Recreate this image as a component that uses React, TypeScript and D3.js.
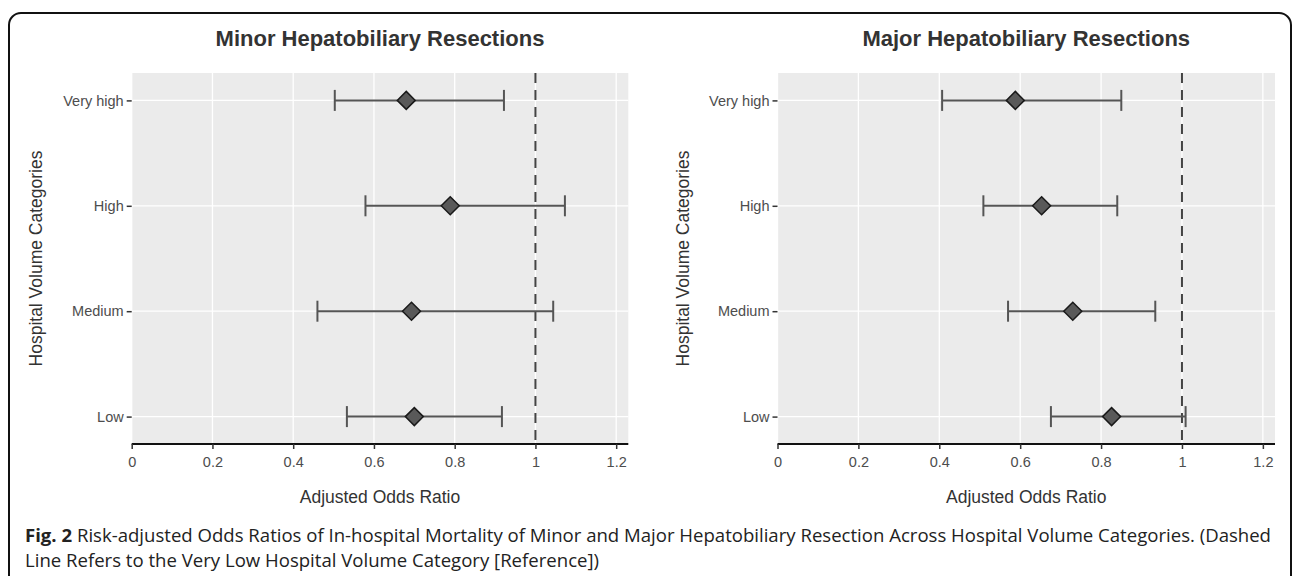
import * as d3 from "d3";
import { useEffect, useRef } from "react";

// categories, bottom to top
const categories = ["Low", "Medium", "High", "Very high"];
const xTicks = [0, 0.2, 0.4, 0.6, 0.8, 1, 1.2];

// Minor resections: odds ratio and 95% CI
const minorOR = [0.7, 0.693, 0.789, 0.68];
const minorLow = [0.533, 0.46, 0.579, 0.503];
const minorHigh = [0.917, 1.044, 1.073, 0.922];

// Major resections
const majorOR = [0.826, 0.73, 0.653, 0.588];
const majorLow = [0.676, 0.57, 0.509, 0.407];
const majorHigh = [1.009, 0.934, 0.84, 0.85];

const panelTitles = ["Minor Hepatobiliary Resections", "Major Hepatobiliary Resections"];
const xTitle = "Adjusted Odds Ratio";
const yTitle = "Hospital Volume Categories";
const captionBold = "Fig. 2";
const captionLine1 =
  " Risk-adjusted Odds Ratios of In-hospital Mortality of Minor and Major Hepatobiliary Resection Across Hospital Volume Categories. (Dashed";
const captionLine2 = "Line Refers to the Very Low Hospital Volume Category [Reference])";

const W = 1292,
  H = 576;

const App = () => {
  const ref = useRef(null);

  useEffect(() => {
    const svg = d3.select(ref.current);
    svg.selectAll("*").remove();

    // outer frame
    svg
      .append("rect")
      .attr("x", 9)
      .attr("y", 13)
      .attr("width", 1282)
      .attr("height", 620)
      .attr("rx", 12)
      .attr("fill", "none")
      .attr("stroke", "#111")
      .attr("stroke-width", 2);

    const panels = [
      { x0: 131.7, x1: 628.3, yTitleX: 36, or: minorOR, lo: minorLow, hi: minorHigh },
      { x0: 777.5, x1: 1275, yTitleX: 683, or: majorOR, lo: majorLow, hi: majorHigh },
    ];
    const top = 73,
      bottom = 444;

    panels.forEach((p, pi) => {
      const x = d3.scaleLinear().domain([0, 1.23]).range([p.x0, p.x1]);
      const y = d3.scalePoint().domain(categories).range([bottom, top]).padding(0.26);
      const g = svg.append("g");

      // panel background
      g.append("rect")
        .attr("x", p.x0)
        .attr("y", top)
        .attr("width", p.x1 - p.x0)
        .attr("height", bottom - top)
        .attr("fill", "#ebebeb");

      // grid
      g.selectAll(".vg")
        .data(xTicks)
        .join("line")
        .attr("x1", (d) => x(d))
        .attr("x2", (d) => x(d))
        .attr("y1", top)
        .attr("y2", bottom)
        .attr("stroke", "#fff")
        .attr("stroke-width", 1.3);
      g.selectAll(".hg")
        .data(categories)
        .join("line")
        .attr("x1", p.x0)
        .attr("x2", p.x1)
        .attr("y1", (d) => y(d))
        .attr("y2", (d) => y(d))
        .attr("stroke", "#fff")
        .attr("stroke-width", 1.3);

      // reference line at 1
      g.append("line")
        .attr("x1", x(1))
        .attr("x2", x(1))
        .attr("y1", top)
        .attr("y2", bottom)
        .attr("stroke", "#444")
        .attr("stroke-width", 2)
        .attr("stroke-dasharray", "10,7");

      // error bars
      const rows = categories.map((c, i) => ({ c, or: p.or[i], lo: p.lo[i], hi: p.hi[i] }));
      const eb = g.selectAll(".eb").data(rows).join("g").attr("stroke", "#555").attr("stroke-width", 2);
      eb.append("line")
        .attr("x1", (d) => x(d.lo))
        .attr("x2", (d) => x(d.hi))
        .attr("y1", (d) => y(d.c))
        .attr("y2", (d) => y(d.c));
      eb.append("line")
        .attr("x1", (d) => x(d.lo))
        .attr("x2", (d) => x(d.lo))
        .attr("y1", (d) => y(d.c) - 10.5)
        .attr("y2", (d) => y(d.c) + 10.5);
      eb.append("line")
        .attr("x1", (d) => x(d.hi))
        .attr("x2", (d) => x(d.hi))
        .attr("y1", (d) => y(d.c) - 10.5)
        .attr("y2", (d) => y(d.c) + 10.5);

      // diamonds
      const r = 9;
      g.selectAll(".pt")
        .data(rows)
        .join("path")
        .attr("d", (d) => {
          const cx = x(d.or),
            cy = y(d.c);
          return `M${cx},${cy - r}L${cx + r},${cy}L${cx},${cy + r}L${cx - r},${cy}Z`;
        })
        .attr("fill", "#595959")
        .attr("stroke", "#1a1a1a")
        .attr("stroke-width", 1.5);

      // x axis
      const xa = g
        .append("g")
        .attr("transform", `translate(0,${bottom})`)
        .call(
          d3
            .axisBottom(x)
            .tickValues(xTicks)
            .tickFormat((d) => d3.format("~g")(d))
            .tickSize(5)
            .tickPadding(8)
        );
      xa.select(".domain").attr("d", `M${p.x0},0H${p.x1}`).attr("stroke", "#111").attr("stroke-width", 2);
      xa.selectAll(".tick line").attr("stroke", "#333").attr("stroke-width", 1.5);
      xa.selectAll(".tick text")
        .attr("fill", "#4d4d4d")
        .style("font-family", "Liberation Sans, Arial, sans-serif")
        .style("font-size", "14.5px");

      // y axis
      const ya = g
        .append("g")
        .attr("transform", `translate(${p.x0},0)`)
        .call(d3.axisLeft(y).tickSize(5).tickPadding(3));
      ya.select(".domain").remove();
      ya.selectAll(".tick line").attr("stroke", "#333").attr("stroke-width", 1.5);
      ya.selectAll(".tick text")
        .attr("fill", "#4d4d4d")
        .style("font-family", "Liberation Sans, Arial, sans-serif")
        .style("font-size", "14.5px");

      // titles
      g.append("text")
        .attr("x", (p.x0 + p.x1) / 2)
        .attr("y", 46)
        .attr("text-anchor", "middle")
        .attr("fill", "#333")
        .style("font-family", "Liberation Sans, Arial, sans-serif")
        .style("font-weight", "bold")
        .style("font-size", "22px")
        .text(panelTitles[pi]);
      g.append("text")
        .attr("x", (p.x0 + p.x1) / 2)
        .attr("y", 503)
        .attr("text-anchor", "middle")
        .attr("fill", "#333")
        .style("font-family", "Liberation Sans, Arial, sans-serif")
        .style("font-size", "17.5px")
        .text(xTitle);
      g.append("text")
        .attr("transform", `translate(${p.yTitleX + 6},${(top + bottom) / 2}) rotate(-90)`)
        .attr("text-anchor", "middle")
        .attr("fill", "#333")
        .style("font-family", "Liberation Sans, Arial, sans-serif")
        .style("font-size", "17.5px")
        .text(yTitle);
    });

    // caption
    const cap = svg
      .append("g")
      .attr("fill", "#222")
      .style("font-family", "Open Sans, sans-serif")
      .style("font-size", "18px");
    const l1 = cap.append("text").attr("x", 0).attr("y", 0);
    l1.append("tspan").style("font-weight", "bold").text(captionBold);
    l1.append("tspan").text(captionLine1);
    cap.append("text").attr("x", 0).attr("y", 25).text(captionLine2);
    const len = l1.node().getComputedTextLength();
    const s = len > 0 ? 1247 / len : 1;
    cap.attr("transform", `translate(25,542) scale(${s},1)`);
  }, []);

  return (
    <svg
      ref={ref}
      width={W}
      height={H}
      style={{ position: "absolute", left: 0, top: 0, background: "#fff" }}
    />
  );
};

export default App;
